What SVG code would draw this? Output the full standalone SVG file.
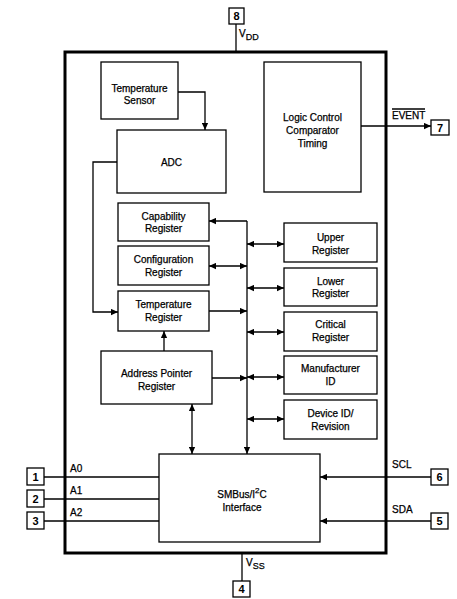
<svg xmlns="http://www.w3.org/2000/svg" width="457" height="599" viewBox="0 0 457 599">
<style>
.b{fill:#fff;stroke:#000;stroke-width:1.3}
.o{fill:none;stroke:#000;stroke-width:3}
.p{fill:#fff;stroke:#000;stroke-width:1.3}
.l{fill:none;stroke:#000;stroke-width:1.3}
text{font-family:"Liberation Sans",Arial,sans-serif;font-size:10px;fill:#000;stroke:#000;stroke-width:0.25}
.c{text-anchor:middle}
.n{font-size:11px;text-anchor:middle;font-weight:bold;stroke:none}
</style>
<defs>
<marker id="ah" viewBox="0 0 10 10" refX="10" refY="5" markerWidth="9" markerHeight="7" markerUnits="userSpaceOnUse" orient="auto-start-reverse">
<path d="M0,0.5 L10,5 L0,9.5 z" fill="#000"/>
</marker>
</defs>
<rect class="o" x="65" y="52" width="321" height="501"/>
<g id="connectors">
<path class="l" d="M236,24 V52"/>
<path class="l" d="M242,553 V581"/>
<path class="l" d="M178,92 H205 V130" marker-end="url(#ah)"/>
<path class="l" d="M117,162 H93 V312 H118" marker-end="url(#ah)"/>
<path class="l" d="M361,126 H431" marker-end="url(#ah)"/>
<path class="l" d="M247,221 V454" marker-end="url(#ah)"/>
<path class="l" d="M247,221 H209" marker-end="url(#ah)"/>
<path class="l" d="M209,266 H247" marker-start="url(#ah)" marker-end="url(#ah)"/>
<path class="l" d="M209,311 H247" marker-end="url(#ah)"/>
<path class="l" d="M212,378 H247" marker-end="url(#ah)"/>
<path class="l" d="M164,351 V331" marker-end="url(#ah)"/>
<path class="l" d="M192,404 V454" marker-start="url(#ah)" marker-end="url(#ah)"/>
<path class="l" d="M247,244 H284" marker-start="url(#ah)" marker-end="url(#ah)"/>
<path class="l" d="M247,288 H284" marker-start="url(#ah)" marker-end="url(#ah)"/>
<path class="l" d="M247,332 H284" marker-start="url(#ah)" marker-end="url(#ah)"/>
<path class="l" d="M247,377 H284" marker-start="url(#ah)" marker-end="url(#ah)"/>
<path class="l" d="M247,419 H284" marker-start="url(#ah)" marker-end="url(#ah)"/>
<path class="l" d="M44,477 H159"/>
<path class="l" d="M44,499 H159"/>
<path class="l" d="M44,521 H159"/>
<path class="l" d="M431,477 H320" marker-end="url(#ah)"/>
<path class="l" d="M431,521 H320" marker-end="url(#ah)"/>
</g>
<g id="pin8"><rect class="p" x="229" y="8" width="15" height="16"/><text class="n" x="236.5" y="20">8</text></g>
<text x="239" y="37">V<tspan font-size="9" dy="2.5">DD</tspan></text>
<g id="pin4"><rect class="p" x="233" y="581" width="17" height="16"/><text class="n" x="241.5" y="593">4</text></g>
<text x="246" y="566">V<tspan font-size="9" dy="2.5">SS</tspan></text>
<g id="pin7"><rect class="p" x="431" y="120" width="18" height="15"/><text class="n" x="440" y="131.5">7</text></g>
<text x="392" y="119">EVENT</text>
<path class="l" d="M392,109 H425" stroke-width="1"/>
<g id="pin1"><rect class="p" x="27" y="468" width="17" height="17"/><text class="n" x="35.5" y="480.5">1</text></g>
<g id="pin2"><rect class="p" x="27" y="490" width="17" height="17"/><text class="n" x="35.5" y="502.5">2</text></g>
<g id="pin3"><rect class="p" x="27" y="512" width="17" height="17"/><text class="n" x="35.5" y="524.5">3</text></g>
<text x="70" y="472">A0</text>
<text x="70" y="494">A1</text>
<text x="70" y="516">A2</text>
<g id="pin6"><rect class="p" x="431" y="469" width="17" height="16"/><text class="n" x="439.5" y="481">6</text></g>
<g id="pin5"><rect class="p" x="431" y="513" width="17" height="16"/><text class="n" x="439.5" y="525">5</text></g>
<text x="392" y="468">SCL</text>
<text x="392" y="513">SDA</text>
<g id="tempSensor"><rect class="b" x="101" y="62" width="77" height="57"/><text class="c" x="139.5" y="91.5">Temperature</text><text class="c" x="139.5" y="103.5">Sensor</text></g>
<g id="adc"><rect class="b" x="117" y="130" width="109" height="63"/><text class="c" x="171.5" y="165.5">ADC</text></g>
<g id="logic"><rect class="b" x="264" y="62" width="97" height="130"/><text class="c" x="312.5" y="120.5">Logic Control</text><text class="c" x="312.5" y="133.5">Comparator</text><text class="c" x="312.5" y="146.5">Timing</text></g>
<g id="capReg"><rect class="b" x="118" y="203" width="91" height="38"/><text class="c" x="163.5" y="219.5">Capability</text><text class="c" x="163.5" y="231.5">Register</text></g>
<g id="confReg"><rect class="b" x="118" y="246" width="91" height="39"/><text class="c" x="163.5" y="262.5">Configuration</text><text class="c" x="163.5" y="275.5">Register</text></g>
<g id="tempReg"><rect class="b" x="118" y="291" width="91" height="40"/><text class="c" x="163.5" y="307.5">Temperature</text><text class="c" x="163.5" y="320.5">Register</text></g>
<g id="addrReg"><rect class="b" x="101" y="351" width="111" height="53"/><text class="c" x="156.5" y="376.5">Address Pointer</text><text class="c" x="156.5" y="389.5">Register</text></g>
<g id="upperReg"><rect class="b" x="284" y="223" width="93" height="39"/><text class="c" x="330.5" y="240.5">Upper</text><text class="c" x="330.5" y="253.5">Register</text></g>
<g id="lowerReg"><rect class="b" x="284" y="268" width="93" height="38"/><text class="c" x="330.5" y="284.5">Lower</text><text class="c" x="330.5" y="296.5">Register</text></g>
<g id="critReg"><rect class="b" x="284" y="312" width="93" height="39"/><text class="c" x="330.5" y="327.5">Critical</text><text class="c" x="330.5" y="341">Register</text></g>
<g id="mfrId"><rect class="b" x="284" y="356" width="93" height="38"/><text class="c" x="330.5" y="371.5">Manufacturer</text><text class="c" x="330.5" y="384.5">ID</text></g>
<g id="devId"><rect class="b" x="284" y="400" width="93" height="39"/><text class="c" x="330.5" y="416.5">Device ID/</text><text class="c" x="330.5" y="429.5">Revision</text></g>
<g id="smbus"><rect class="b" x="159" y="454" width="161" height="88"/><text class="c" x="242" y="497.5">SMBus/I<tspan font-size="8" dy="-5">2</tspan><tspan dy="5">C</tspan></text><text class="c" x="242" y="510.5">Interface</text></g>
</svg>
